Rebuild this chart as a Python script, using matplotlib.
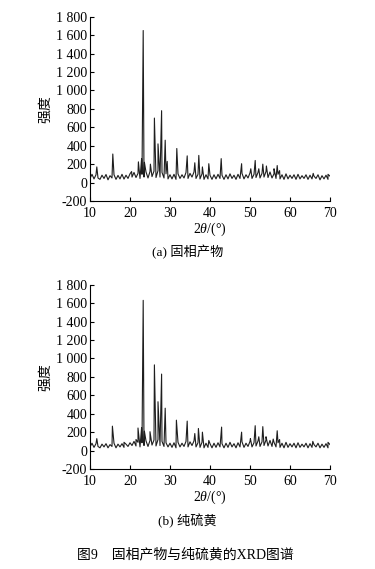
import numpy as np
import matplotlib.pyplot as plt
from matplotlib.ticker import FuncFormatter

plt.rcParams['font.family'] = ['Liberation Serif', 'Noto Sans CJK SC']
plt.rcParams['mathtext.fontset'] = 'custom'
plt.rcParams['mathtext.rm'] = 'Liberation Serif'
plt.rcParams['mathtext.it'] = 'Liberation Serif:italic'

# background readings every 0.5 deg from 10 to 70
bg_x = np.arange(10, 70.01, 0.5)
bg_a = [45, 90, 40, 85, 50, 35, 80, 45, 88, 30, 75, 50, 85, 35, 78, 40, 90, 38, 80, 45, 95,
        60, 110, 55, 100, 45, 90, 60, 115, 50, 120, 65, 125, 55, 130, 60, 110, 50, 95, 40,
        85, 40, 90, 35, 95, 45, 85, 50, 110, 45, 100, 60, 115, 45, 90, 40, 95, 35, 85, 40,
        80, 35, 85, 40, 90, 45, 80, 35, 85, 40, 95, 45, 80, 35, 90, 45, 100, 40, 85, 50,
        105, 45, 90, 55, 110, 50, 100, 60, 120, 55, 115, 50, 95, 45, 90, 40, 85, 35, 95,
        40, 80, 45, 85, 35, 90, 40, 75, 45, 85, 35, 80, 40, 70, 45, 85, 30, 75, 40, 80, 35, 70]
bg_b = [40, 80, 35, 75, 45, 30, 70, 40, 75, 30, 65, 45, 80, 30, 70, 40, 75, 35, 70, 45, 85,
        55, 100, 50, 90, 40, 85, 55, 105, 45, 110, 60, 115, 50, 120, 55, 100, 45, 85, 40,
        80, 35, 85, 30, 90, 40, 80, 45, 100, 40, 95, 55, 105, 40, 85, 35, 90, 30, 80, 35,
        75, 30, 80, 35, 85, 40, 75, 30, 80, 35, 90, 40, 75, 30, 85, 40, 95, 35, 80, 45,
        100, 40, 85, 50, 105, 45, 95, 55, 115, 50, 110, 45, 90, 40, 85, 35, 80, 30, 90,
        35, 75, 40, 80, 30, 85, 35, 70, 40, 80, 30, 75, 35, 65, 40, 80, 30, 70, 35, 75, 30, 65]

# peaks (2theta, intensity)
pos_a = [11.7, 15.7, 20.4, 22.1, 22.9, 23.3, 23.6, 25.1, 26.1, 27.0, 27.9, 28.8, 29.3, 31.7,
         34.3, 36.2, 37.2, 38.1, 39.7, 42.8, 47.9, 50.2, 51.3, 52.2, 53.2, 54.1, 56.0, 56.8,
         57.4, 65.8, 69.5]
int_a = [170, 310, 120, 225, 260, 1650, 220, 200, 700, 420, 780, 460, 230, 370,
         290, 215, 295, 170, 205, 260, 205, 150, 240, 150, 200, 180, 150, 185,
         130, 100, 90]
pos_b = [11.7, 15.6, 18.5, 21.5, 22.0, 22.9, 23.3, 23.6, 25.0, 26.1, 27.0, 27.9, 28.8, 31.6,
         34.3, 36.2, 37.1, 38.1, 39.7, 42.9, 47.9, 50.1, 51.3, 52.2, 53.2, 54.0, 55.8, 56.8,
         57.4, 65.7, 69.5]
int_b = [130, 265, 90, 120, 245, 250, 1630, 210, 205, 930, 530, 830, 460, 330,
         320, 185, 240, 200, 110, 255, 200, 130, 270, 150, 260, 150, 125, 215,
         120, 100, 90]

yticks = list(range(-200, 1801, 200))


def trace(bg, pos, inten):
    x = np.concatenate([bg_x, pos])
    y = np.concatenate([bg, inten])
    order = np.argsort(x, kind='stable')
    return x[order], y[order]


def fmt(v, p):
    return f"{v:,.0f}".replace(",", " ")


fig = plt.figure(figsize=(3.75, 5.69), dpi=100)
panels = [(0.6467, bg_a, pos_a, int_a, 0.557, "(a) 固相产物"),
          (0.1757, bg_b, pos_b, int_b, 0.0844, "(b) 纯硫黄")]

for bottom, bg, pos, inten, cap_y, cap in panels:
    ax = fig.add_axes([0.24, bottom, 0.64, 0.324])
    x, y = trace(bg, pos, inten)
    ax.plot(x, y, color='#1e1e1e', lw=0.8)
    ax.set_xlim(10, 70)
    ax.set_ylim(-200, 1800)
    ax.set_xticks(range(10, 71, 10))
    ax.set_yticks(yticks)
    ax.yaxis.set_major_formatter(FuncFormatter(fmt))
    ax.spines['top'].set_visible(False)
    ax.spines['right'].set_visible(False)
    ax.tick_params(direction='in', length=3, width=0.8, labelsize=10, pad=2)
    ax.tick_params(axis='x', pad=4)
    ax.set_xlabel(r'2$\theta$/(°)', fontsize=10, labelpad=1)
    ax.set_ylabel('强度', fontsize=10, labelpad=3)
    fig.text(0.5, cap_y, cap, ha='center', va='center', fontsize=9.5)

fig.text(0.495, 0.025, "图9　固相产物与纯硫黄的XRD图谱", ha='center', va='center', fontsize=10)

plt.savefig('out.png', dpi=100)
